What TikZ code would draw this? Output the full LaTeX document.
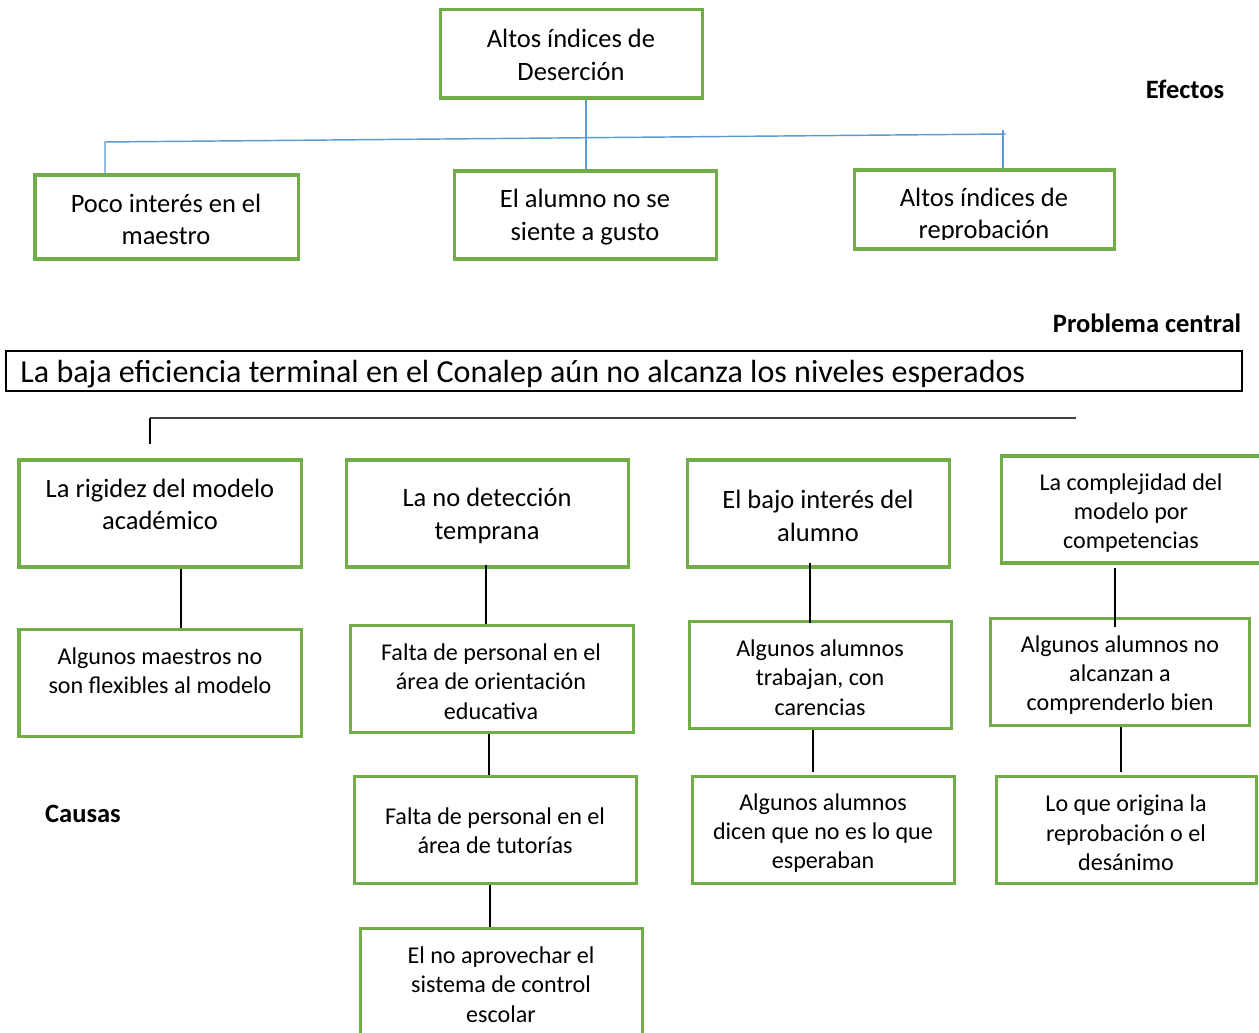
\documentclass[tikz,border=0pt]{standalone}
\usepackage{fontspec}
\setmainfont{Carlito}
\usetikzlibrary{fit}
\definecolor{grn}{HTML}{70AD47}
\definecolor{blu}{HTML}{5B9BD5}
\definecolor{dk}{HTML}{404040}
\begin{document}
\begin{tikzpicture}[x=0.415pt,y=-0.415pt,
  gbox/.style={draw=grn, line width=1.25pt, inner sep=0pt},
  cbox/.style={draw=black, line width=0.9pt, inner sep=0pt},
  tA/.style={align=center, inner sep=0pt, font=\fontsize{11}{13.5}\selectfont},
  tB/.style={align=center, inner sep=0pt, font=\fontsize{10}{12.2}\selectfont},
  tC/.style={anchor=west, inner sep=0pt, font=\fontsize{13.3}{16}\selectfont},
  lab/.style={inner sep=0pt, font=\fontsize{11}{13.5}\selectfont\bfseries},
  bl/.style={draw=blu, line width=0.6pt},
  conn/.style={draw=black, line width=0.6pt}]
\useasboundingbox[fill=white] (0,0) rectangle (1259,1032);

% ---- Effects ----
\node[gbox, fit={(440,10) (702,98)}] (des) {};
\node[tA] (desT) at (571,55) {Altos índices de\\Deserción};
\node[gbox, fit={(35,175) (298,259)}] (poco) {};
\node[tA] (pocoT) at (166,219.5) {Poco interés en el\\maestro};
\node[gbox, fit={(454,171) (716,259)}] (alum) {};
\node[tA] (alumT) at (585,217) {El alumno no se\\siente a gusto};
\begin{scope}
\clip (854,170) rectangle (1114,239.5);
\node[tA] (repT) at (984,215.5) {Altos índices de\\reprobación};
\end{scope}
\node[gbox, fit={(854,170) (1114,249)}] (rep) {};

\draw[bl] (des.south -| 586,0) -- (alum.north -| 586,0);
\draw[bl] (poco.north -| 105,0) -- (105,142) -- (1006,134);
\draw[bl] (1003,130) -- (rep.north -| 1003,0);

\node[lab] (efe) at (1185,89) {Efectos};
\node[lab] (prob) at (1147,323) {Problema central};

% ---- Central problem ----
\node[cbox, fit={(6,351) (1242,391)}] (cen) {};
\node[tC] (cenT) at (20,374) {La baja eficiencia terminal en el Conalep aún no alcanza los niveles esperados};

\draw[draw=dk, line width=1pt] (150,418) -- (1076,418);
\draw[conn] (150,418) -- (150,444);

% ---- Causes row 1 ----
\node[gbox, fit={(19,460) (301,567)}] (rig) {};
\node[tA] (rigT) at (160,504.5) {La rigidez del modelo\\académico};
\node[gbox, fit={(346,460) (628,567)}] (det) {};
\node[tA] (detT) at (487,516) {La no detección\\temprana};
\node[gbox, fit={(687,460) (949,567)}] (baj) {};
\node[tA] (bajT) at (818,516) {El bajo interés del\\alumno};
\node[gbox, fit={(1001,456) (1263,563)}] (com) {};
\node[tB] (comT) at (1131,513) {La complejidad del\\modelo por\\competencias};

% ---- row 2 ----
\node[gbox, fit={(19,629) (301,736)}] (mae) {};
\node[tB] (maeT) at (160,670.5) {Algunos maestros no\\son flexibles al modelo};
\node[gbox, fit={(350,625) (633,732)}] (ori) {};
\node[tB] (oriT) at (491,681.5) {Falta de personal en el\\área de orientación\\educativa};
\node[gbox, fit={(689,621) (951,728)}] (tra) {};
\node[tB] (traT) at (820,677.5) {Algunos alumnos\\trabajan, con\\carencias};
\node[gbox, fit={(990,618) (1249,725)}] (alc) {};
\node[tB] (alcT) at (1120,675) {Algunos alumnos no\\alcanzan a\\comprenderlo bien};

% ---- row 3 ----
\node[gbox, fit={(354,776) (636,883)}] (tut) {};
\node[tB] (tutT) at (495,831) {Falta de personal en el\\área de tutorías};
\node[gbox, fit={(692,776) (954,883)}] (dic) {};
\node[tB] (dicT) at (823,833) {Algunos alumnos\\dicen que no es lo que\\esperaban};
\node[gbox, fit={(996,776) (1256,883)}] (ori2) {};
\node[tB] (ori2T) at (1126,833) {Lo que origina la\\reprobación o el\\desánimo};

% ---- row 4 ----
\node[gbox, fit={(360,928) (642,1045)}] (apr) {};
\node[tB] (aprT) at (501,984.5) {El no aprovechar el\\sistema de control\\escolar};

\node[lab] (cau) at (83,814) {Causas};

% ---- connectors ----
\draw[conn] (rig.south -| 181,0) -- (mae.north -| 181,0);
\draw[conn] (486,565) -- (ori.north -| 486,0);
\draw[conn] (810,563) -- (810,623);
\draw[conn] (1115,568) -- (1115,627);
\draw[conn] (ori.south -| 489,0) -- (tut.north -| 489,0);
\draw[conn] (tra.south -| 813,0) -- (813,772);
\draw[conn] (alc.south -| 1121,0) -- (1121,772);
\draw[conn] (tut.south -| 490,0) -- (apr.north -| 490,0);
\end{tikzpicture}
\end{document}
